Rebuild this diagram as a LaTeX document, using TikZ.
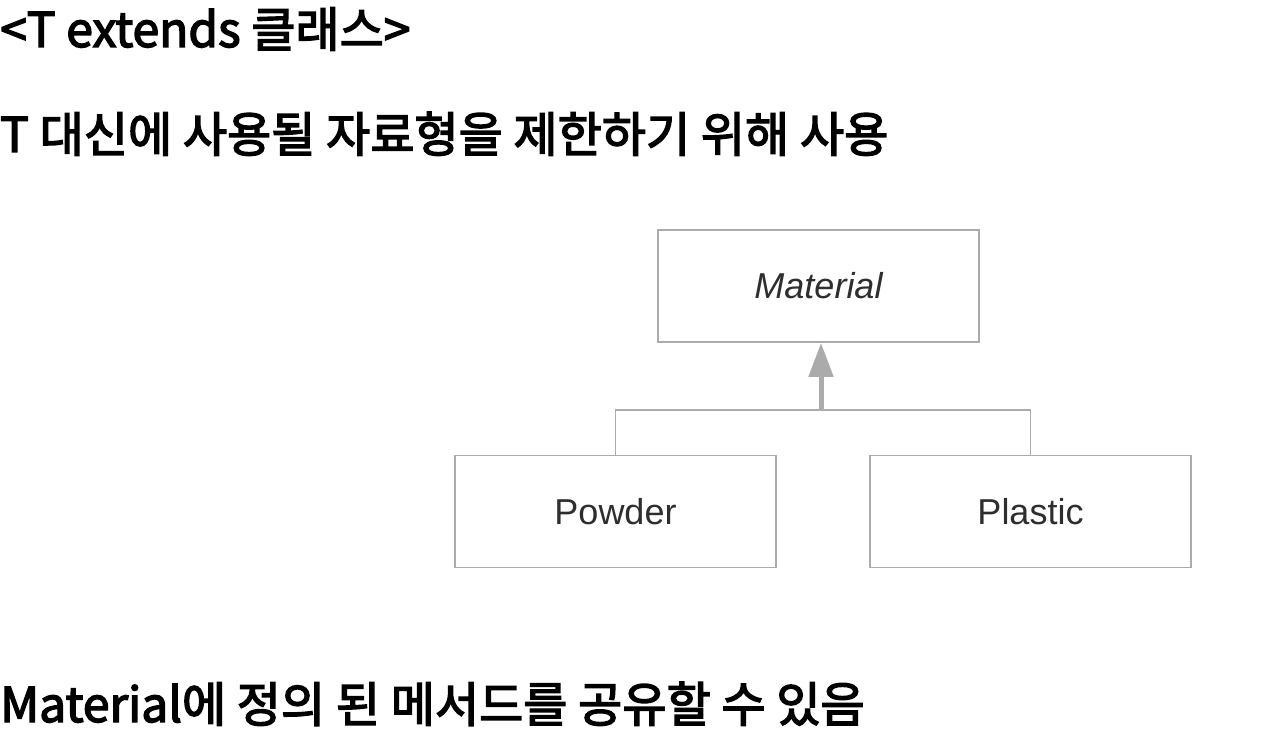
\documentclass[tikz,border=0pt]{standalone}
\usepackage{fontspec}
\setmainfont{Liberation Sans}
\newfontfamily\krfont{Noto Sans CJK KR}[FakeBold=3]
\usetikzlibrary{arrows.meta}
\definecolor{linegray}{HTML}{ABABAB}
\definecolor{boxtext}{HTML}{2E2E2E}
\tikzset{
  heading/.style={anchor=base west, inner sep=0pt, font=\krfont\fontsize{48}{54}\selectfont},
  umlbox/.style={draw=linegray, line width=1.8pt, minimum width=321pt, minimum height=112pt, inner sep=0pt, text=boxtext, font=\fontsize{36}{42}\selectfont},
  conn/.style={draw=linegray, line width=1.8pt},
}
\begin{document}
\begin{tikzpicture}[x=1pt,y=-1pt]
\useasboundingbox (0,0) rectangle (1267,735);
\node[heading] (h1) at (0,47) {<T extends 클래스>};
\node[heading] (h2) at (0,152) {T 대신에 사용될 자료형을 제한하기 위해 사용};
\node[heading] (h3) at (0,722) {Material에 정의 된 메서드를 공유할 수 있음};

\node[umlbox, font=\itshape\fontsize{36}{42}\selectfont] (mat) at (818.5,286) {Material};
\node[umlbox] (pow) at (615.5,511.5) {Powder};
\node[umlbox] (pla) at (1030.5,511.5) {Plastic};

\coordinate (j) at (821,410);
\coordinate (jl) at (pow.north |- j);
\coordinate (jr) at (pla.north |- j);
\draw[conn] (pow.north) -- (jl) -- (jr) -- (pla.north);
\draw[conn, line width=5pt, -{Triangle[length=34pt, width=24pt]}] (j) -- (j |- mat.south);
\end{tikzpicture}
\end{document}
